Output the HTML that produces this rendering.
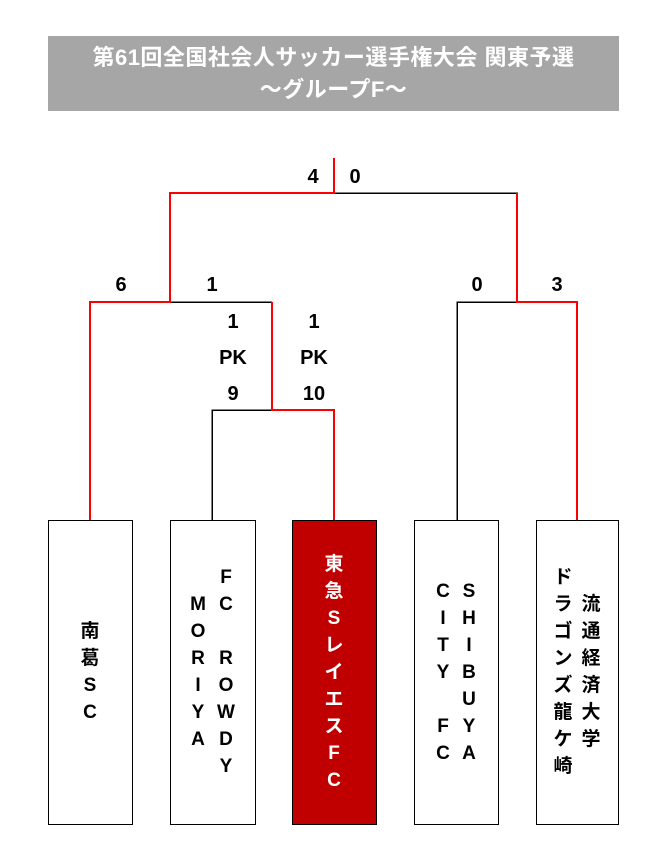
<!DOCTYPE html>
<html><head><meta charset="utf-8"><style>
body{margin:0;background:#fff;width:668px;height:862px;position:relative;overflow:hidden;font-family:"Liberation Sans","Noto Sans CJK JP",sans-serif;font-weight:bold;}
.t{position:absolute;left:48px;top:36px;width:571px;height:75px;background:#a6a6a6;color:#fff;font-size:22px;text-align:center;line-height:32px;padding-top:6px;box-sizing:border-box;letter-spacing:0.5px}
.s{position:absolute;font-size:20px;width:40px;text-align:center;line-height:20px;color:#000}
.b{position:absolute;top:520px;height:305px;border:1.5px solid #000;box-sizing:border-box;background:#fff}
.c{position:absolute;width:30px;text-align:center;font-size:19px;line-height:27px;color:#000}
</style></head><body>
<div class="t">第61回全国社会人サッカー選手権大会 関東予選<br>～グループF～</div>
<svg width="668" height="862" style="position:absolute;left:0;top:0" shape-rendering="crispEdges">
<g fill="none" stroke="#000" stroke-width="1.5">
<path d="M334 193H517V302M457 520V302H577M170 302H272M212 520V410H272"/>
</g>
<g fill="none" stroke="#f00" stroke-width="2">
<path d="M334 158V193H170V302H90V520M272 302V410H334V520M517 193V302H577V520"/>
</g>
</svg>
<div class="s" style="left:293px;top:167px">4</div>
<div class="s" style="left:335px;top:167px">0</div>
<div class="s" style="left:101px;top:275px">6</div>
<div class="s" style="left:192px;top:275px">1</div>
<div class="s" style="left:457px;top:275px">0</div>
<div class="s" style="left:537px;top:275px">3</div>
<div class="s" style="left:213px;top:312px">1</div>
<div class="s" style="left:213px;top:348px">PK</div>
<div class="s" style="left:213px;top:384px">9</div>
<div class="s" style="left:294px;top:312px">1</div>
<div class="s" style="left:294px;top:348px">PK</div>
<div class="s" style="left:294px;top:384px">10</div>

<div class="b" style="left:48px;width:85px"></div>
<div class="b" style="left:170px;width:86px"></div>
<div class="b" style="left:292px;width:85px;background:#c00000"></div>
<div class="b" style="left:414px;width:85px"></div>
<div class="b" style="left:536px;width:83px"></div>

<div class="c" style="left:75px;top:618px">南<br>葛<br>S<br>C</div>
<div class="c" style="left:183px;top:591px">M<br>O<br>R<br>I<br>Y<br>A</div>
<div class="c" style="left:211px;top:564px">F<br>C<br>&nbsp;<br>R<br>O<br>W<br>D<br>Y</div>
<div class="c" style="left:319px;top:551px;color:#fff">東<br>急<br>S<br>レ<br>イ<br>エ<br>ス<br>F<br>C</div>
<div class="c" style="left:428px;top:578px">C<br>I<br>T<br>Y<br>&nbsp;<br>F<br>C</div>
<div class="c" style="left:454px;top:578px">S<br>H<br>I<br>B<br>U<br>Y<br>A</div>
<div class="c" style="left:548px;top:564px">ド<br>ラ<br>ゴ<br>ン<br>ズ<br>龍<br>ケ<br>崎</div>
<div class="c" style="left:576px;top:591px">流<br>通<br>経<br>済<br>大<br>学</div>
</body></html>
